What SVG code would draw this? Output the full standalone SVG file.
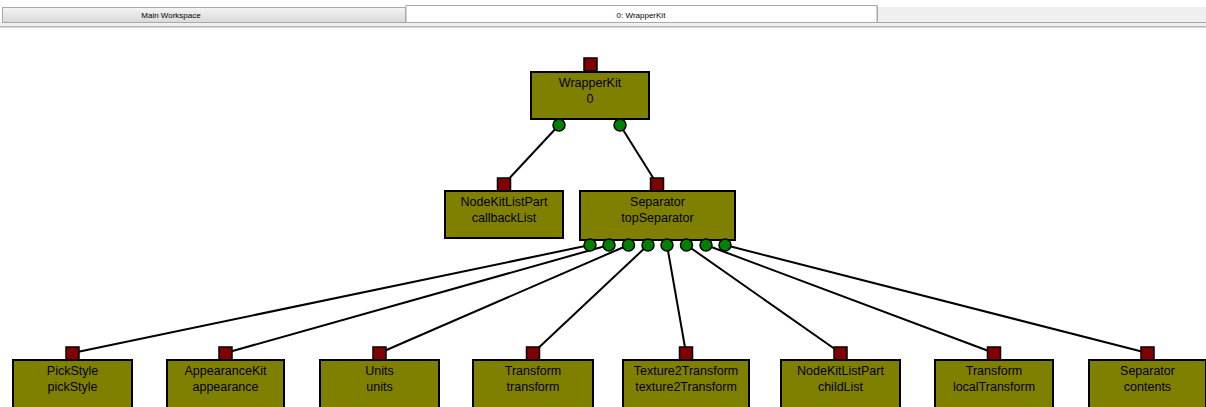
<svg xmlns="http://www.w3.org/2000/svg" width="1206" height="407" viewBox="0 0 1206 407">
  <defs>
    <linearGradient id="tabGrad" x1="0" y1="0" x2="0" y2="1">
      <stop offset="0" stop-color="#f4f4f4"/>
      <stop offset="0.5" stop-color="#e6e6e6"/>
      <stop offset="1" stop-color="#d9d9d9"/>
    </linearGradient>
  </defs>
  <style>
    .tabtxt { font-family: "Liberation Sans", Arial, sans-serif; font-size: 8px; fill: #000; text-anchor: middle; }
    .box { fill: #808000; stroke: #000; stroke-width: 2; }
    .in { fill: #800000; stroke: #000; stroke-width: 1.5; }
    .out { fill: #008000; stroke: #000; stroke-width: 1.5; }
    .lbl { font-family: "Liberation Sans", Arial, sans-serif; font-size: 12.5px; fill: #000; text-anchor: middle; }
    .edge { stroke: #000; stroke-width: 2; fill: none; }
  </style>

  <rect width="1206" height="407" fill="#ffffff"/>

  <!-- tab bar -->
  <g id="tabbar">
    <rect x="0" y="22" width="1206" height="4" fill="#f0f0f0"/>
    <rect x="0" y="26" width="1206" height="1.5" fill="#b4b4b4"/>
    <rect x="2.5" y="7.5" width="403" height="15" fill="url(#tabGrad)" stroke="#a8a8a8" stroke-width="1"/>
    <text class="tabtxt" x="171" y="17.5">Main Workspace</text>
    <rect x="406" y="5.5" width="471" height="17" fill="#ffffff" stroke="#a8a8a8" stroke-width="1"/>
    <text class="tabtxt" x="641" y="17.5">0: WrapperKit</text>
    <path d="M877.5 6 V22.5 H1206" fill="none" stroke="#a8a8a8" stroke-width="1"/>
    <rect x="878" y="7" width="328" height="15" fill="#efefef"/>
  </g>

  <!-- connectors -->
  <g id="connectors" class="edge">
    <line x1="559" y1="125" x2="504" y2="184"/>
    <line x1="620" y1="125" x2="657" y2="184"/>
    <line x1="590" y1="245" x2="72.5" y2="353"/>
    <line x1="609" y1="245" x2="225.5" y2="353"/>
    <line x1="628.5" y1="245" x2="379.5" y2="353"/>
    <line x1="648" y1="245" x2="533" y2="353"/>
    <line x1="667" y1="245" x2="686" y2="353"/>
    <line x1="686.5" y1="245" x2="840.5" y2="353"/>
    <line x1="706" y1="245" x2="994" y2="353"/>
    <line x1="725" y1="245" x2="1147.5" y2="353"/>
  </g>

  <!-- nodes -->
  <g id="node-wrapperkit">
    <rect class="in" x="584" y="58" width="13" height="13"/>
    <rect class="box" x="531" y="72" width="118" height="47"/>
    <text class="lbl" x="590" y="86.5">WrapperKit</text>
    <text class="lbl" x="590" y="102.5">0</text>
    <circle class="out" cx="559" cy="125" r="6"/>
    <circle class="out" cx="620" cy="125" r="6"/>
  </g>

  <g id="node-callbacklist">
    <rect class="in" x="497.5" y="178" width="13" height="13"/>
    <rect class="box" x="445" y="191" width="118" height="47"/>
    <text class="lbl" x="504" y="205.5">NodeKitListPart</text>
    <text class="lbl" x="504" y="221.5">callbackList</text>
  </g>

  <g id="node-topseparator">
    <rect class="in" x="650.5" y="178" width="13" height="13"/>
    <rect class="box" x="580" y="191" width="155" height="49"/>
    <text class="lbl" x="657.5" y="206">Separator</text>
    <text class="lbl" x="657.5" y="222">topSeparator</text>
    <circle class="out" cx="590" cy="245" r="6"/>
    <circle class="out" cx="609" cy="245" r="6"/>
    <circle class="out" cx="628.5" cy="245" r="6"/>
    <circle class="out" cx="648" cy="245" r="6"/>
    <circle class="out" cx="667" cy="245" r="6"/>
    <circle class="out" cx="686.5" cy="245" r="6"/>
    <circle class="out" cx="706" cy="245" r="6"/>
    <circle class="out" cx="725" cy="245" r="6"/>
  </g>

  <g id="node-pickstyle">
    <rect class="in" x="66" y="347" width="13" height="13"/>
    <rect class="box" x="13" y="360" width="119" height="49"/>
    <text class="lbl" x="72.5" y="374.5">PickStyle</text>
    <text class="lbl" x="72.5" y="390.5">pickStyle</text>
  </g>

  <g id="node-appearance">
    <rect class="in" x="219" y="347" width="13" height="13"/>
    <rect class="box" x="167" y="360" width="117" height="49"/>
    <text class="lbl" x="225.5" y="374.5">AppearanceKit</text>
    <text class="lbl" x="225.5" y="390.5">appearance</text>
  </g>

  <g id="node-units">
    <rect class="in" x="373" y="347" width="13" height="13"/>
    <rect class="box" x="320" y="360" width="119" height="49"/>
    <text class="lbl" x="379.5" y="374.5">Units</text>
    <text class="lbl" x="379.5" y="390.5">units</text>
  </g>

  <g id="node-transform">
    <rect class="in" x="526.5" y="347" width="13" height="13"/>
    <rect class="box" x="473" y="360" width="120" height="49"/>
    <text class="lbl" x="533" y="374.5">Transform</text>
    <text class="lbl" x="533" y="390.5">transform</text>
  </g>

  <g id="node-texture2transform">
    <rect class="in" x="679.5" y="347" width="13" height="13"/>
    <rect class="box" x="623" y="360" width="126" height="49"/>
    <text class="lbl" x="686" y="374.5">Texture2Transform</text>
    <text class="lbl" x="686" y="390.5">texture2Transform</text>
  </g>

  <g id="node-childlist">
    <rect class="in" x="834" y="347" width="13" height="13"/>
    <rect class="box" x="781" y="360" width="119" height="49"/>
    <text class="lbl" x="840.5" y="374.5">NodeKitListPart</text>
    <text class="lbl" x="840.5" y="390.5">childList</text>
  </g>

  <g id="node-localtransform">
    <rect class="in" x="987.5" y="347" width="13" height="13"/>
    <rect class="box" x="935" y="360" width="118" height="49"/>
    <text class="lbl" x="994" y="374.5">Transform</text>
    <text class="lbl" x="994" y="390.5">localTransform</text>
  </g>

  <g id="node-contents">
    <rect class="in" x="1141" y="347" width="13" height="13"/>
    <rect class="box" x="1089" y="360" width="117" height="49"/>
    <text class="lbl" x="1147.5" y="374.5">Separator</text>
    <text class="lbl" x="1147.5" y="390.5">contents</text>
  </g>
</svg>
